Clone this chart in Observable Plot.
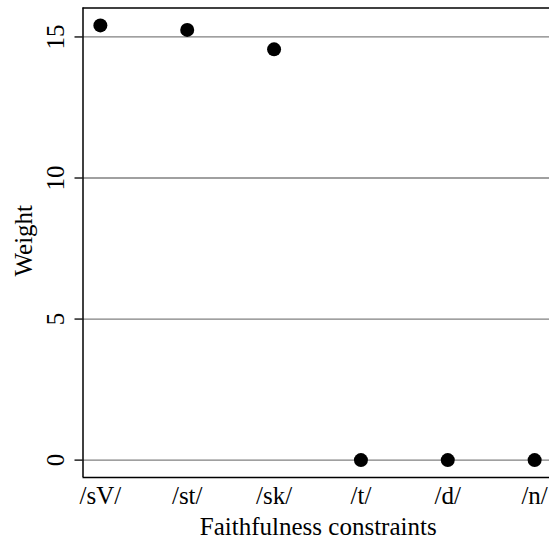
<!DOCTYPE html>
<html>
<head>
<meta charset="utf-8">
<script src="https://cdn.jsdelivr.net/npm/d3@7"></script>
<script src="https://cdn.jsdelivr.net/npm/@observablehq/plot@0.6"></script>
<style>
  html, body { margin: 0; padding: 0; background: #fff; }
  svg { display: block; }
  #chart svg, #chart svg text { font-family: "Liberation Serif", "Times New Roman", Times, serif !important; }
</style>
</head>
<body>
<div id="chart"></div>
<script>
const constraints = ["/sV/", "/st/", "/sk/", "/t/", "/d/", "/n/"];
const weights = [15.41, 15.25, 14.56, 0, 0, 0];
const yTicks = [0, 5, 10, 15];

const data = constraints.map((c, i) => ({i: i + 1, label: c, w: weights[i]}));

// R-style 4% axis extension
const xMin = 1 - 0.04 * 5, xMax = 6 + 0.04 * 5;
const wMax = d3.max(weights), wMin = d3.min(weights);
const yPad = 0.04 * (wMax - wMin);
const yMin = wMin - yPad, yMax = wMax + yPad;

const serif = "Liberation Serif, Times New Roman, serif";

const chart = Plot.plot({
  width: 549,
  height: 545,
  marginLeft: 82.5,
  marginTop: 7.5,
  marginBottom: 68,
  marginRight: 0,
  style: "font-family: 'Liberation Serif', serif; font-size: 25px; background: #fff; color: #000;",
  x: {domain: [xMin, xMax], range: [82.5, 551.5]},
  y: {domain: [yMin, yMax]},
  marks: [
    Plot.gridY(yTicks, {stroke: "#808080", strokeOpacity: 1, strokeWidth: 1.3}),
    Plot.ruleY([yMin, yMax], {stroke: "#000", strokeWidth: 1.5}),
    Plot.ruleX([xMin], {stroke: "#000", strokeWidth: 1.5}),
    Plot.axisY(yTicks, {
      tickSize: 8, tickRotate: -90, tickPadding: 11, fontSize: 25, fontFamily: serif,
      textAnchor: "middle", lineAnchor: "bottom",
      label: null, strokeWidth: 1.3
    }),
    Plot.text(["Weight"], {
      frameAnchor: "left", dx: -51, dy: -2, rotate: -90,
      textAnchor: "middle", lineAnchor: "bottom",
      fontSize: 25, fontFamily: serif, fill: "#000"
    }),
    Plot.axisX(data.map(d => d.i), {
      tickSize: 0, tickPadding: 9, tickFormat: (d) => constraints[d - 1],
      fontSize: 25, fontFamily: serif, label: null
    }),
    Plot.text(["Faithfulness constraints"], {
      frameAnchor: "bottom", dy: 57, dx: 2, lineAnchor: "bottom",
      fontSize: 25, fontFamily: serif, fill: "#000"
    }),
    Plot.dot(data, {x: "i", y: "w", r: 7, fill: "#000", stroke: "none"})
  ]
});
document.getElementById("chart").appendChild(chart);
</script>
</body>
</html>
